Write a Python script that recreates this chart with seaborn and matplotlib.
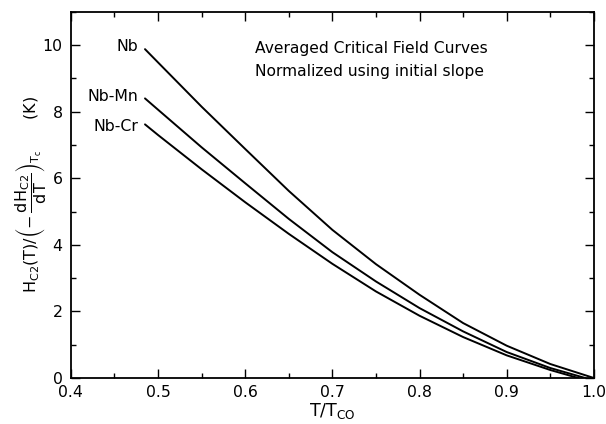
import numpy as np
import pandas as pd
import matplotlib
matplotlib.use("Agg")
import matplotlib.pyplot as plt
import seaborn as sns
from matplotlib.ticker import MultipleLocator

# ---- data ----
t_nb = [0.485, 0.50, 0.55, 0.60, 0.65, 0.70, 0.75, 0.80, 0.85, 0.90, 0.95, 1.00]
h_nb = [9.88, 9.48, 8.15, 6.88, 5.62, 4.45, 3.42, 2.50, 1.65, 0.97, 0.42, 0.0]

t_mn = [0.485, 0.50, 0.55, 0.60, 0.65, 0.70, 0.75, 0.80, 0.85, 0.90, 0.95, 0.99]
h_mn = [8.40, 8.06, 6.93, 5.85, 4.78, 3.78, 2.90, 2.10, 1.40, 0.78, 0.30, 0.0]

t_cr = [0.485, 0.50, 0.55, 0.60, 0.65, 0.70, 0.75, 0.80, 0.85, 0.90, 0.95, 0.982]
h_cr = [7.62, 7.30, 6.27, 5.28, 4.33, 3.43, 2.60, 1.87, 1.23, 0.68, 0.24, 0.0]

series_names = ["Nb", "Nb-Mn", "Nb-Cr"]
label_y = [9.97, 8.46, 7.56]

title_lines = ["Averaged Critical Field Curves", "Normalized using initial slope"]

x_ticks = [0.4, 0.5, 0.6, 0.7, 0.8, 0.9, 1.0]
x_ticklabels = ["0.4", "0.5", "0.6", "0.7", "0.8", "0.9", "1.0"]

df = pd.concat([
    pd.DataFrame({"T": t_nb, "H": h_nb, "alloy": "Nb"}),
    pd.DataFrame({"T": t_mn, "H": h_mn, "alloy": "Nb-Mn"}),
    pd.DataFrame({"T": t_cr, "H": h_cr, "alloy": "Nb-Cr"}),
])

sns.set_theme(style="ticks")
plt.rcParams["font.family"] = ["DejaVu Sans"]
plt.rcParams["mathtext.default"] = "regular"

fig = plt.figure(figsize=(6.06, 4.24), dpi=100)
ax = fig.add_axes([0.117, 0.1085, 0.863, 0.8635])

sns.lineplot(data=df, x="T", y="H", units="alloy", estimator=None,
             color="black", linewidth=1.4, sort=False, ax=ax, legend=False)

ax.set_xlim(0.4, 1.0)
ax.set_ylim(0, 11)
ax.xaxis.set_minor_locator(MultipleLocator(0.05))
ax.yaxis.set_major_locator(MultipleLocator(2))
ax.yaxis.set_minor_locator(MultipleLocator(1))
ax.set_xticks(x_ticks)
ax.set_xticklabels(x_ticklabels)

ax.tick_params(which="both", direction="in", top=True, right=True,
               color="black", width=1.0, labelsize=11.3, labelcolor="black")
ax.tick_params(which="major", length=6.5)
ax.tick_params(axis="x", which="major", pad=5)
ax.tick_params(axis="y", which="major", pad=6)
ax.tick_params(which="minor", length=3.8)

for sp in ax.spines.values():
    sp.set_color("black")
    sp.set_linewidth(1.3)

ax.set_xlabel(r"T/T$_{CO}$", fontsize=12.5, color="black", labelpad=1)
ax.set_ylabel(r"$H_{C2}(T)/\left(-\,\dfrac{dH_{C2}}{dT}\right)_{T_c}$      (K)",
              fontsize=11.5, color="black")
ax.yaxis.set_label_coords(-0.042, 0.5)

for name, yv in zip(series_names, label_y):
    ax.text(0.477, yv, name, ha="right", va="center", fontsize=11.3, color="black")

ax.text(0.611, 9.91, title_lines[0], ha="left", va="center", fontsize=11.2, color="black")
ax.text(0.611, 9.22, title_lines[1], ha="left", va="center", fontsize=11.2, color="black")

fig.savefig("out.png", dpi=100)
